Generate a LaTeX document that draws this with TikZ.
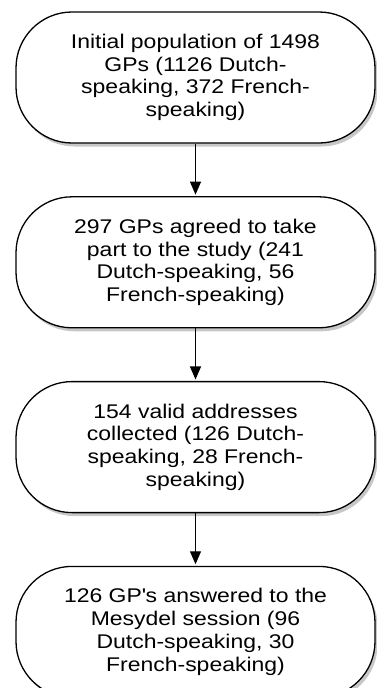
\documentclass[tikz,border=0pt]{standalone}
\usepackage{fontspec}
\setmainfont{Liberation Sans}[FakeStretch=1.16]
\usepackage{tikz}
\usetikzlibrary{positioning,arrows.meta,shadows}

\begin{document}
\begin{tikzpicture}[
  stagebox/.style={draw, line width=1.3pt, fill=white, rounded corners=56pt,
    minimum width=359pt, minimum height=131pt, align=center, inner sep=0pt,
    font=\fontsize{19.8}{22.7}\selectfont,
    drop shadow={shadow xshift=2.5pt, shadow yshift=-3.5pt, opacity=0.4, fill=black!55}},
  flow/.style={line width=1.2pt, -{Triangle[length=13pt,width=11pt]}, shorten >=1.5pt},
  node distance=52.5pt
]
\useasboundingbox (0,0) rectangle (377pt,-688pt);
\node[stagebox] (initial) at (195.5pt,-77.5pt) {Initial population of 1498\\GPs (1126 Dutch-\\speaking, 372 French-\\speaking)};
\node[stagebox, below=of initial] (agreed) {297 GPs agreed to take\\part to the study (241\\Dutch-speaking, 56\\French-speaking)};
\node[stagebox, below=of agreed] (addresses) {154 valid addresses\\collected (126 Dutch-\\speaking, 28 French-\\speaking)};
\node[stagebox, below=of addresses] (answered) {126 GP\textquotesingle s answered to the\\Mesydel session (96\\Dutch-speaking, 30\\French-speaking)};
\draw[flow] (initial) -- (agreed);
\draw[flow] (agreed) -- (addresses);
\draw[flow] (addresses) -- (answered);
\end{tikzpicture}
\end{document}
